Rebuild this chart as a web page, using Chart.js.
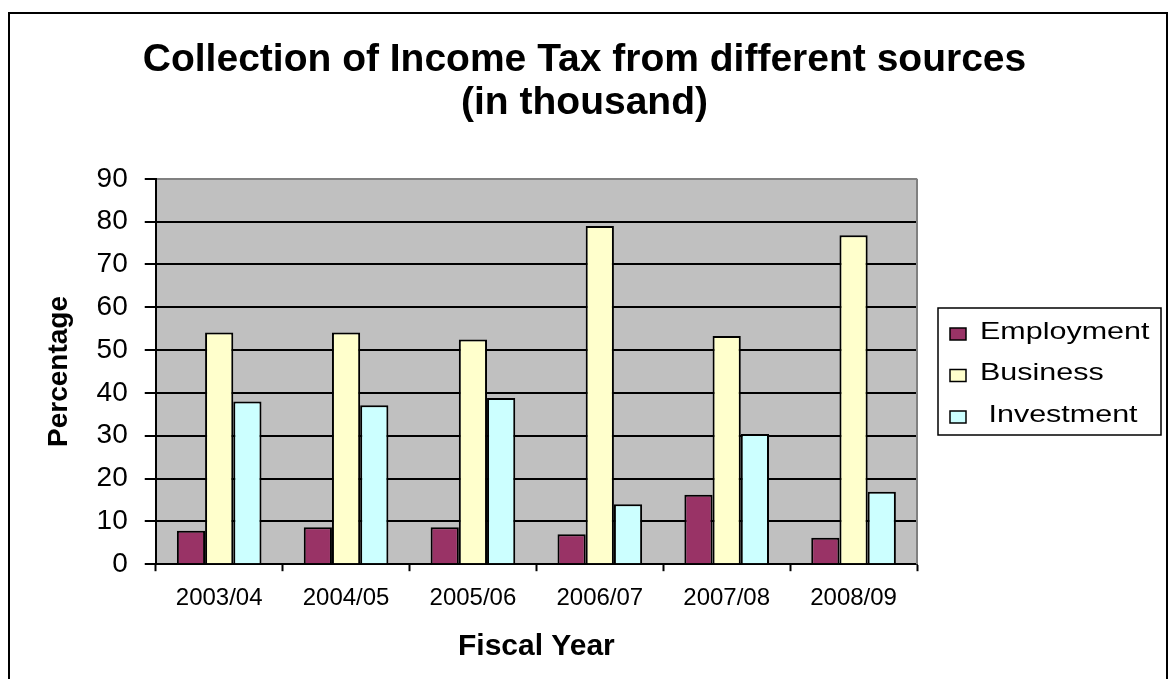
<!DOCTYPE html>
<html>
<head>
<meta charset="utf-8">
<title>Income Tax Collection</title>
<script src="https://cdn.jsdelivr.net/npm/chart.js@4/dist/chart.umd.min.js"></script>
<style>
  body { margin: 0; background: #fff; }
  #wrap { width: 1169px; height: 679px; }
</style>
</head>
<body>
<div id="wrap"><canvas id="taxChart"></canvas></div>
<script>
const years = ["2003/04", "2004/05", "2005/06", "2006/07", "2007/08", "2008/09"];
const employment = [7.8, 8.6, 8.6, 7.0, 16.2, 6.2];
const business = [54.1, 54.1, 52.5, 79.0, 53.3, 76.8];
const investment = [38.0, 37.1, 38.8, 14.0, 30.4, 16.9];
const yTicks = [0, 10, 20, 30, 40, 50, 60, 70, 80, 90];

const FONT = "'Liberation Sans', Arial, sans-serif";

// outer frame + grey plot background
const framePlugin = {
  id: "frame",
  beforeDraw(chart) {
    const { ctx, chartArea: a } = chart;
    ctx.save();
    ctx.fillStyle = "#c0c0c0";
    ctx.fillRect(a.left, a.top, a.right - a.left, a.bottom - a.top);
    ctx.strokeStyle = "#000";
    ctx.lineWidth = 2;
    ctx.beginPath();
    ctx.moveTo(9, chart.height + 5);
    ctx.lineTo(9, 13);
    ctx.lineTo(1167, 13);
    ctx.lineTo(1167, chart.height + 5);
    ctx.stroke();
    ctx.restore();
  },
  beforeDatasetsDraw(chart) {
    const { ctx, chartArea: a } = chart;
    ctx.save();
    ctx.strokeStyle = "#808080";
    ctx.lineWidth = 2;
    ctx.beginPath();
    ctx.moveTo(a.right, a.top);
    ctx.lineTo(a.right, a.bottom);
    ctx.stroke();
    ctx.restore();
  }
};

// boxed legend to the right of the plot
const boxLegend = {
  id: "boxLegend",
  afterDraw(chart) {
    const { ctx, chartArea: a } = chart;
    const w = 223, h = 127;
    const left = a.right + 21;
    const top = (a.top + a.bottom) / 2 - h / 2;
    ctx.save();
    ctx.fillStyle = "#fff";
    ctx.fillRect(left, top, w, h);
    ctx.strokeStyle = "#000";
    ctx.lineWidth = 1.5;
    ctx.strokeRect(left, top, w, h);
    chart.data.datasets.forEach((ds, i) => {
      const cy = top + 24 + i * 41.5;
      ctx.fillStyle = ds.backgroundColor;
      ctx.fillRect(left + 12, cy - 4, 16, 12);
      ctx.lineWidth = 1.5;
      ctx.strokeRect(left + 12, cy - 4, 16, 12);
      ctx.fillStyle = "#000";
      ctx.font = "24px " + FONT;
      ctx.textBaseline = "middle";
      ctx.save();
      ctx.translate(left + 42, cy);
      ctx.scale(1.27, 1);
      ctx.fillText(ds.label, 0, 0);
      ctx.restore();
    });
    ctx.restore();
  }
};

new Chart(document.getElementById("taxChart"), {
  type: "bar",
  data: {
    labels: years,
    datasets: [
      { label: "Employment", data: employment, backgroundColor: "#993366" },
      { label: "Business", data: business, backgroundColor: "#ffffcc" },
      { label: " Investment", data: investment, backgroundColor: "#ccffff" }
    ].map(ds => Object.assign(ds, {
      borderColor: "#000",
      borderWidth: 2,
      borderSkipped: "bottom",
      categoryPercentage: 0.667,
      barPercentage: 1.0
    }))
  },
  options: {
    responsive: true,
    maintainAspectRatio: false,
    animation: false,
    events: [],
    layout: { padding: 0 },
    plugins: {
      legend: { display: false },
      tooltip: { enabled: false },
      title: {
        display: true,
        text: ["Collection of Income Tax from different sources", "(in thousand)"],
        color: "#000",
        font: { family: FONT, size: 39, weight: "bold", lineHeight: 1.1 },
        padding: { top: 39, bottom: 54 }
      }
    },
    scales: {
      x: {
        grid: {
          drawOnChartArea: false,
          tickLength: 7,
          tickColor: "#000",
          tickWidth: 2
        },
        border: { color: "#000", width: 2 },
        ticks: {
          color: "#000",
          padding: 13,
          font: { family: FONT, size: 24 }
        },
        title: {
          display: true,
          text: "Fiscal Year",
          color: "#000",
          font: { family: FONT, size: 30, weight: "bold" },
          padding: { top: 3, bottom: 14 }
        }
      },
      y: {
        min: 0,
        max: 90,
        afterBuildTicks: scale => { scale.ticks = yTicks.map(v => ({ value: v })); },
        grid: {
          color: c => (c.tick && c.tick.value === 90 ? "#808080" : "#000"),
          lineWidth: 2,
          tickLength: 11,
          tickColor: "#000",
          tickWidth: 2
        },
        border: { color: "#000", width: 2 },
        ticks: {
          color: "#000",
          padding: 17,
          font: { family: FONT, size: 28 }
        },
        title: {
          display: true,
          text: "Percentage",
          color: "#000",
          font: { family: FONT, size: 28, weight: "bold" },
          padding: { top: 42, bottom: 4 }
        }
      },
      // empty right-hand strip that leaves room for the legend box
      side: {
        type: "linear",
        position: "right",
        display: true,
        grid: { display: false },
        border: { display: false },
        ticks: { display: false },
        afterFit: scale => { scale.width = 252; }
      }
    }
  },
  plugins: [framePlugin, boxLegend]
});
</script>
</body>
</html>
